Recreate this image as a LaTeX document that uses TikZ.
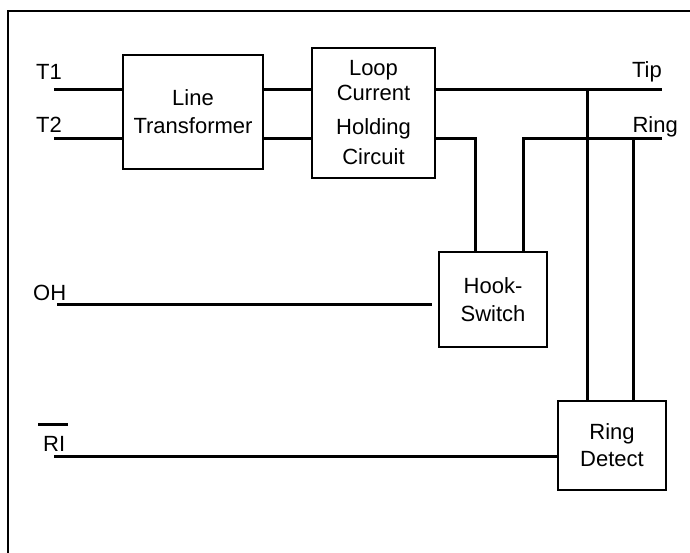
\documentclass[tikz,border=0pt]{standalone}
\usepackage{fontspec}
\setmainfont{Liberation Sans}
\begin{document}
\begin{tikzpicture}[x=1pt,y=-1pt,
  blk/.style={draw,line width=2.5pt,align=center,inner sep=0pt,
    font=\fontsize{22}{28}\selectfont},
  wire/.style={line width=3pt},
  lbl/.style={inner sep=0pt,font=\fontsize{22}{26}\selectfont}]
\useasboundingbox (0,0) rectangle (690,552);
\clip (0,0) rectangle (690,552);
% frame
\draw[line width=2pt] (8,570) -- (8,11) -- (700,11);
% blocks
\node[blk,minimum width=140pt,minimum height=114pt] (lt) at (193,112) {Line\\Transformer};
\node[blk,minimum width=123pt,minimum height=130pt,font=\fontsize{22}{25}\selectfont] (loop) at (373.5,113)
  {Loop\\Current\\[9pt]Holding\\[5pt]Circuit};
\node[blk,minimum width=108pt,minimum height=95pt] (hook) at (493,299.5) {Hook-\\Switch};
\node[blk,minimum width=108pt,minimum height=89pt,font=\fontsize{22}{27}\selectfont] (rd) at (612,445.5) {Ring\\Detect};
% coordinates
\coordinate (t1) at (54,89);
\coordinate (t2) at (54,138);
\coordinate (tip) at (662,89);
\coordinate (ringr) at (662,138);
\coordinate (ringl) at (523,138);
\coordinate (lcr) at (475,138);
\coordinate (tapt) at (587,89);
\coordinate (tapr) at (633,138);
\coordinate (oh) at (57,304);
\coordinate (ri) at (54,456);
% wires
\draw[wire] (t1) -- (t1 -| lt.west);
\draw[wire] (t2) -- (t2 -| lt.west);
\draw[wire] (lt.east |- t1) -- (loop.west |- t1);
\draw[wire] (lt.east |- t2) -- (loop.west |- t2);
\draw[wire] (loop.east |- t1) -- (tip);
\draw[wire] (loop.east |- t2) -- (lcr) -- (lcr |- hook.north);
\draw[wire] (ringr) -- (ringl) -- (ringl |- hook.north);
\draw[wire] (tapt) -- (tapt |- rd.north);
\draw[wire] (tapr) -- (tapr |- rd.north);
\draw[wire] (oh) -- ([xshift=-6pt]hook.west |- oh);
\draw[wire] (ri) -- (rd.west |- ri);
% labels
\node[lbl,anchor=base west] (lt1) at (36,79) {T1};
\node[lbl,anchor=base west] (lt2) at (36,132) {T2};
\node[lbl,anchor=base east] (ltip) at (662,77) {Tip};
\node[lbl,anchor=base east] (lring) at (678,132) {Ring};
\node[lbl,anchor=base west] (loh) at (33,300) {OH};
\node[lbl,anchor=base west] (lri) at (43,451) {RI};
\draw[line width=3pt] ([xshift=-5pt,yshift=11pt]lri.north west) -- ([xshift=3pt,yshift=11pt]lri.north east);
\end{tikzpicture}
\end{document}
